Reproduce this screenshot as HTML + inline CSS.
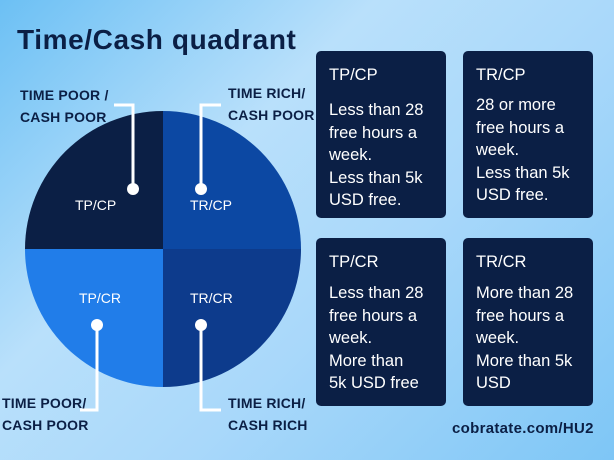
<!DOCTYPE html>
<html><head><style>
body{margin:0;width:614px;height:460px;overflow:hidden;font-family:"Liberation Sans",sans-serif;}
#bg{position:absolute;left:0;top:0;width:614px;height:460px;background:linear-gradient(135deg,#6cc0f4 0%,#b9e0fb 35%,#a9d8fa 60%,#7ec6f6 100%);}
.t{position:absolute;color:#0b1f45;font-weight:bold;}
.lab{position:absolute;color:#0b1f45;font-weight:bold;font-size:14px;line-height:22px;letter-spacing:0.2px;}
.box{position:absolute;background:#0b1f45;border-radius:5px;width:130px;color:#fff;font-size:16.5px;line-height:22.5px;padding-left:13px;box-sizing:border-box;}
.box .h{position:absolute;top:13px;left:13px;}
.box .b{position:absolute;left:13px;}
.q{position:absolute;color:#fff;font-size:14px;}
</style></head><body>
<div id="bg"></div>
<div class="t" style="left:17px;top:24px;font-size:28px;letter-spacing:0.6px;">Time/Cash quadrant</div>
<svg style="position:absolute;left:0;top:0" width="614" height="460">
<path d="M163,249 L25,249 A138,138 0 0 1 163,111 Z" fill="#0b1f45"/>
<path d="M163,249 L163,111 A138,138 0 0 1 301,249 Z" fill="#0c48a3"/>
<path d="M163,249 L25,249 A138,138 0 0 0 163,387 Z" fill="#217de9"/>
<path d="M163,249 L163,387 A138,138 0 0 0 301,249 Z" fill="#0d3b8c"/>
<g stroke="#fff" stroke-width="3" fill="none">
<polyline points="114,105 133,105 133,189"/>
<polyline points="221,105 201,105 201,189"/>
<polyline points="97,325 97,410 80,410"/>
<polyline points="201,325 201,410 221,410"/>
</g>
<g fill="#fff"><circle cx="133" cy="189" r="6"/><circle cx="201" cy="189" r="6"/><circle cx="97" cy="325" r="6"/><circle cx="201" cy="325" r="6"/></g>
</svg>
<div class="q" style="left:75px;top:197px">TP/CP</div>
<div class="q" style="left:190px;top:197px">TR/CP</div>
<div class="q" style="left:79px;top:290px">TP/CR</div>
<div class="q" style="left:190px;top:290px">TR/CR</div>
<div class="lab" style="left:20px;top:84px">TIME POOR /<br>CASH POOR</div>
<div class="lab" style="left:228px;top:82px">TIME RICH/<br>CASH POOR</div>
<div class="lab" style="left:2px;top:392px">TIME POOR/<br>CASH POOR</div>
<div class="lab" style="left:228px;top:392px">TIME RICH/<br>CASH RICH</div>
<div class="box" style="left:316px;top:51px;height:167px"><div class="h">TP/CP</div><div class="b" style="top:48px">Less than 28<br>free hours a<br>week.<br>Less than 5k<br>USD free.</div></div>
<div class="box" style="left:463px;top:51px;height:167px"><div class="h">TR/CP</div><div class="b" style="top:43px">28 or more<br>free hours a<br>week.<br>Less than 5k<br>USD free.</div></div>
<div class="box" style="left:316px;top:238px;height:168px"><div class="h">TP/CR</div><div class="b" style="top:44px">Less than 28<br>free hours a<br>week.<br>More than<br>5k USD free</div></div>
<div class="box" style="left:463px;top:238px;height:168px"><div class="h">TR/CR</div><div class="b" style="top:44px">More than 28<br>free hours a<br>week.<br>More than 5k<br>USD</div></div>
<div class="t" style="left:452px;top:420px;font-size:15px;letter-spacing:0.3px;">cobratate.com/HU2</div>
</body></html>
